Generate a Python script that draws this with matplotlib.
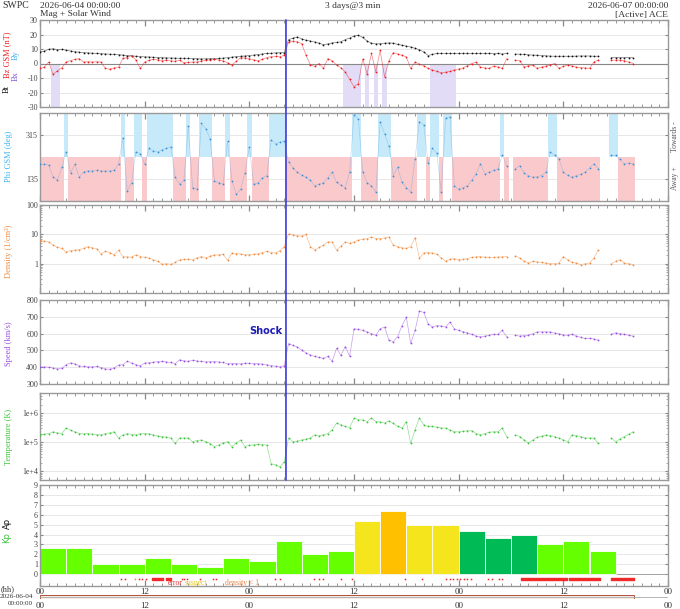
import numpy as np
import matplotlib.pyplot as plt
from matplotlib.patches import ConnectionPatch

nan = np.nan

# half-hour samples from 2026-06-04 00:00 UT (144 per series, 6 h per row)
bt = [8.0, 8.5, 9.8, 10.2, 9.5, 9.8, 9.2, 8.6, 8.2, 7.8, 7.5, 7.3,
      7.1, 7.0, 6.8, 6.6, 6.4, 6.3, 6.1, 5.8, 5.5, 5.3, 5.0, 4.8,
      4.6, 4.5, 4.3, 4.1, 4.0, 3.9, 3.8, 3.7, 3.6, 3.6, 3.5, 3.4,
      3.3, 3.2, 3.2, 3.3, 3.4, 3.5, 3.7, 4.0, 4.4, 4.7, 5.0, 5.2,
      5.5, 5.8, 6.2, 6.6, 6.9, 7.1, 7.3, 7.5, 7.5, 16.5, 17.5, 18.3,
      17.0, 16.0, 15.5, 14.8, 14.0, 13.0, 13.5, 14.2, 14.5, 15.0, 16.5, 17.5,
      19.0, 19.4, 18.0, 15.5, 14.0, 13.5, 13.7, 14.0, 14.2, 14.0, 13.2, 12.6,
      12.0, 11.4, 10.5, 9.5, 8.0, 5.5, 6.3, 6.9, 7.0, 6.9, 6.9, 6.9,
      7.0, 6.9, 6.9, 6.9, 6.9, 7.0, 6.9, 6.9, 6.8, 6.9, 6.5, 7.0,
      nan, 6.5, 6.4, 6.3, 6.0, 5.8, 5.7, 5.5, 5.3, 5.1, 5.0, 5.0,
      5.0, 5.0, 5.0, 5.1, 5.2, 5.2, 5.2, 5.0, 5.0, nan, nan, 4.1,
      4.1, 4.0, 4.1, 4.1, 4.0, nan, nan, nan, nan, nan, nan, nan]

bz = [-3.4, -2.5, 1.0, -7.5, -5.0, -3.0, 1.0, 2.0, 2.8, 3.4, 1.0, 1.2,
      1.0, 1.2, 1.0, -3.4, -3.9, -3.0, -2.5, 3.5, 4.1, 5.5, 2.3, -3.4,
      1.0, 2.3, 2.8, 2.5, 2.0, 2.3, 1.8, 1.6, 2.3, 0.5, 0.8, 1.0,
      1.0, 1.8, 2.3, 2.5, 2.8, 2.5, 1.8, 0.5, -1.1, 1.5, 4.1, 3.8,
      3.4, 2.5, 1.8, 3.0, 4.1, 4.8, 5.0, 4.6, 5.7, 14.8, 15.5, 15.0,
      13.7, 5.7, -1.0, -2.0, 0.0, -3.4, 3.4, 1.8, -1.0, -3.0, -5.7, -11.0,
      -16.0, -13.8, 3.0, -7.0, 6.9, -5.7, 9.1, -9.2, 2.0, 7.5, 6.5, 5.7,
      4.5, -3.4, 1.0, -0.5, -1.5, -3.4, -4.5, -5.5, -6.4, -6.0, -5.5, -4.6,
      -3.8, -3.0, -1.5, 0.0, 1.0, -2.5, -3.0, -3.4, -1.8, -2.5, -3.4, 3.4,
      nan, 2.3, 2.0, -2.5, -1.5, -1.1, -3.4, -2.5, -1.8, -1.0, 0.0, -3.4,
      -2.0, -1.1, -1.8, -2.5, -2.8, -3.0, -3.4, 1.0, 2.3, nan, nan, 2.3,
      2.3, 2.3, 2.0, 1.0, 0.0, nan, nan, nan, nan, nan, nan, nan]

# phi on the 45..405 display scale
phi = [195, 196, 192, 145, 130, 183, 246, 160, 195, 142, 165, 168,
       168, 170, 168, 167, 168, 170, 197, 301, 87, 120, 246, 239,
       197, 260, 250, 246, 255, 260, 267, 142, 114, 130, 350, 100,
       93, 363, 340, 300, 128, 120, 114, 290, 128, 73, 93, 160,
       267, 114, 120, 140, 149, 294, 280, 285, 290, 204, 180, 163,
       150, 142, 130, 107, 114, 120, 140, 163, 121, 110, 100, 163,
       398, 380, 163, 120, 107, 80, 370, 320, 270, 149, 183, 121,
       100, 80, 218, 370, 356, 200, 260, 240, 80, 384, 390, 107,
       93, 100, 107, 130, 156, 197, 156, 163, 170, 177, 232, 190,
       nan, 177, 190, 160, 149, 142, 145, 149, 163, 246, 232, 218,
       163, 150, 142, 149, 155, 163, 180, 197, 177, nan, nan, 232,
       232, 215, 197, 200, 197, nan, nan, nan, nan, nan, nan, nan]

density = [6.3, 5.8, 5.5, 4.3, 3.6, 3.3, 2.5, 2.8, 2.9, 3.0, 3.3, 3.8,
           3.5, 3.2, 2.2, 2.6, 2.4, 2.0, 2.9, 1.75, 1.7, 1.67, 2.0, 1.75,
           1.65, 1.55, 1.35, 1.2, 0.95, 1.0, 0.95, 1.1, 1.36, 1.4, 1.43, 1.36,
           1.6, 1.75, 1.55, 1.8, 2.0, 2.0, 2.1, 1.3, 2.3, 2.2, 2.15, 2.0,
           2.0, 2.1, 2.15, 2.4, 2.6, 2.4, 2.3, 2.8, 3.8, 10.5, 9.5, 9.0,
           8.6, 10.0, 3.8, 2.9, 3.6, 4.3, 5.5, 5.5, 2.9, 4.0, 5.5, 4.9,
           5.5, 6.3, 6.8, 7.2, 8.1, 7.2, 7.2, 7.5, 8.1, 4.3, 3.8, 3.5,
           3.3, 3.8, 7.7, 1.55, 2.3, 2.4, 2.3, 2.1, 1.6, 1.2, 1.4, 1.5,
           1.36, 1.4, 1.5, 1.63, 1.7, 1.75, 1.67, 1.65, 1.63, 1.67, 1.7, 1.75,
           nan, 1.85, 1.55, 1.2, 1.05, 1.2, 1.15, 1.1, 1.05, 1.0, 1.0, 1.05,
           1.75, 1.36, 1.1, 1.05, 0.93, 1.0, 1.05, 1.55, 2.9, nan, nan, 1.0,
           1.2, 1.36, 1.05, 1.0, 0.93, nan, nan, nan, nan, nan, nan, nan]

speed = [400, 402, 400, 395, 390, 393, 415, 425, 420, 408, 405, 402,
         402, 405, 398, 390, 387, 396, 412, 415, 435, 425, 415, 408,
         425, 427, 430, 433, 435, 431, 428, 421, 444, 438, 435, 441,
         437, 435, 431, 433, 433, 431, 428, 421, 421, 421, 420, 424,
         423, 422, 421, 418, 415, 410, 406, 402, 410, 541, 530, 520,
         502, 485, 473, 464, 458, 452, 464, 435, 512, 470, 523, 465,
         629, 625, 619, 610, 600, 590, 629, 639, 561, 552, 581, 648,
         697, 542, 619, 735, 726, 658, 639, 648, 645, 639, 668, 629,
         619, 612, 605, 596, 585, 581, 585, 590, 596, 596, 619, 581,
         nan, 590, 585, 588, 590, 600, 610, 610, 610, 610, 603, 600,
         592, 590, 596, 585, 578, 571, 571, 568, 561, nan, nan, 596,
         605, 600, 596, 590, 585, nan, nan, nan, nan, nan, nan, nan]

# temperature in thousands of kelvin
temp_k = [180, 190, 200, 230, 210, 200, 310, 260, 230, 200, 195, 200,
          190, 185, 180, 200, 210, 230, 140, 180, 200, 185, 180, 200,
          200, 195, 180, 165, 157, 150, 140, 92, 140, 140, 140, 105,
          115, 120, 105, 90, 71, 81, 95, 105, 71, 95, 120, 71,
          80, 81, 85, 83, 81, 18, 17, 14, 21, 140, 105, 110,
          120, 130, 140, 180, 170, 180, 200, 270, 460, 400, 350, 320,
          680, 600, 590, 520, 680, 520, 500, 460, 550, 450, 350, 310,
          520, 92, 270, 680, 400, 350, 350, 330, 310, 310, 260, 230,
          230, 240, 250, 250, 200, 180, 200, 220, 230, 230, 310, 157,
          nan, 180, 157, 120, 95, 120, 150, 160, 180, 170, 157, 140,
          120, 105, 180, 170, 157, 140, 140, 140, 92, nan, nan, 140,
          105, 130, 157, 190, 230, nan, nan, nan, nan, nan, nan, nan]

shock_hour = 28.2

kp_start = [0, 3, 6, 9, 12, 15, 18, 21, 24, 27, 30, 33,
            36, 39, 42, 45, 48, 51, 54, 57, 60, 63]
kp = [2.67, 2.67, 1.0, 1.0, 1.67, 1.0, 0.67, 1.67, 1.33, 3.33, 2.0, 2.33,
      5.33, 6.33, 5.0, 5.0, 4.33, 3.67, 4.0, 3.0, 3.33, 2.33]

# data quality flags (hours)
error_marks = [9.3, 9.8, 11.4, 11.7, 12.1, 16.3, 16.5, 16.9, 18.3, 19.8, 20.2,
               26.9, 27.5, 31.4, 32.0, 32.5, 34.5, 35.8, 41.9, 43.8, 46.5, 47.0,
               47.4, 47.8, 48.2, 48.6, 49.0, 49.4, 51.4, 51.8, 52.6, 53.0]
error_spans = [(12.8, 14.1), (14.5, 15.0), (55.2, 60.4), (60.7, 64.2), (65.5, 68.1)]
suspect_marks = [10.9]

hours = np.arange(len(bt)) * 0.5
bt, bz, phi = np.array(bt), np.array(bz), np.array(phi, dtype=float)
density, speed = np.array(density), np.array(speed, dtype=float)
temp = np.array(temp_k, dtype=float) * 1e3

W, H = 680, 609
plt.rcParams['font.family'] = ['Liberation Serif', 'DejaVu Sans']
fig = plt.figure(figsize=(W / 100, H / 100), dpi=100)


def px_axes(top, bottom, left=40, right=668):
    return fig.add_axes([left / W, 1 - bottom / H, (right - left) / W, (bottom - top) / H])


def ftext(x, y, s, **kw):
    kw.setdefault('fontsize', 6)
    kw.setdefault('va', 'center')
    fig.text(x / W, 1 - y / H, s, **kw)


def dress(ax, yticks, ylabels, show_x=False):
    ax.set_xlim(0, 72)
    ax.set_xticks(range(0, 73, 12))
    ax.set_xticks(range(0, 73), minor=True)
    ax.set_xticklabels(['00', '12'] * 3 + ['00'])
    ax.tick_params(axis='x', which='both', direction='in', top=True, bottom=True,
                   color='#888', labelbottom=show_x, labelsize=6.5, labelcolor='#333', pad=1.5)
    ax.tick_params(axis='x', which='major', length=4, width=0.9)
    ax.tick_params(axis='x', which='minor', length=2.2, width=0.6)
    ax.set_yticks(yticks)
    ax.set_yticklabels(ylabels)
    ax.yaxis.set_minor_formatter(plt.NullFormatter())
    ax.tick_params(axis='y', which='both', direction='in', left=True, right=True,
                   color='#888', labelsize=5.8, labelcolor='#444', pad=1.5)
    ax.tick_params(axis='y', which='major', length=2.5)
    ax.tick_params(axis='y', which='minor', length=1.5, width=0.5)
    ax.grid(axis='y', which='major', color='#e3e3e3', lw=0.6)
    ax.set_axisbelow(True)
    for sp in ax.spines.values():
        sp.set_color('#999')
        sp.set_linewidth(1.0)


def trace(ax, y, color, ms=1.3, line_alpha=0.55):
    ax.plot(hours, y, color=color, lw=0.5, alpha=line_alpha, zorder=3)
    ax.plot(hours, y, ls='none', marker='o', ms=ms, mec='none', color=color, zorder=4)


# Bt / Bz
ax1 = px_axes(20, 107)
neg = bz < -4
ax1.bar(hours[neg], -30, bottom=0, width=0.5, color='#e2dcf7', lw=0, zorder=1)
ax1.axhline(0, color='#888', lw=0.8, zorder=2)
trace(ax1, bt, '#111111')
trace(ax1, bz, '#ee1c1c')
ax1.set_ylim(-30, 30)
dress(ax1, range(-30, 31, 10), [str(v) for v in range(-30, 31, 10)])

# Phi
ax2 = px_axes(113, 201)
away = (phi >= 45) & (phi < 225)
towards = phi >= 225
ax2.bar(hours[away], 225 - 45, bottom=45, width=0.5, color='#f9c9cc', lw=0, zorder=1)
ax2.bar(hours[towards], 405 - 225, bottom=225, width=0.5, color='#c7eafa', lw=0, zorder=1)
trace(ax2, phi, '#3a8fd6', ms=1.3, line_alpha=0.3)
ax2.set_ylim(45, 405)
dress(ax2, [135, 315], ['135', '315'])

# density
ax3 = px_axes(205, 293)
trace(ax3, density, '#f08a3c')
ax3.set_yscale('log')
ax3.set_ylim(0.1, 100)
dress(ax3, [1, 10, 100], ['1', '10', '100'])

# speed
ax4 = px_axes(300, 384)
trace(ax4, speed, '#9a4fe0')
ax4.set_ylim(300, 800)
dress(ax4, range(300, 801, 100), [str(v) for v in range(300, 801, 100)])
ax4.text(27.8, 615, 'Shock', ha='right', va='center', color='#1c1cb4',
         fontweight='bold', family='DejaVu Sans', fontsize=7)

# temperature
ax5 = px_axes(393, 480)
trace(ax5, temp, '#3cc43c')
ax5.set_yscale('log')
ax5.set_ylim(5e3, 5e6)
dress(ax5, [1e4, 1e5, 1e6], ['1e+4', '1e+5', '1e+6'])

shock = ConnectionPatch(xyA=(shock_hour, 30), coordsA=ax1.transData,
                        xyB=(shock_hour, 5e3), coordsB=ax5.transData,
                        color='#3b3bdc', lw=1.2, zorder=10)
fig.add_artist(shock)


# Kp
def kp_colour(v):
    if v < 3.5:
        return '#66ff00'
    if v < 4.5:
        return '#00bb55'
    if v < 5.67:
        return '#f5e51c'
    if v < 6.67:
        return '#ffc000'
    return '#ff3030'


ax6 = px_axes(485, 586)
ax6.bar(kp_start, kp, width=3, align='edge', color=[kp_colour(v) for v in kp],
        edgecolor='white', lw=0.6, zorder=2)
ax6.axhline(0, color='#999', lw=0.6, zorder=1)
ax6.plot(error_marks, [-0.45] * len(error_marks), ls='none', marker='s', ms=1.1,
         mec='none', color='#e82020')
ax6.plot(suspect_marks, [-0.45] * len(suspect_marks), ls='none', marker='s', ms=1.1,
         mec='none', color='#f0843c')
ax6.broken_barh([(a, b - a) for a, b in error_spans], (-0.55, 0.2), color='#f02a2a')
ax6.text(15.5, -0.85, 'error', color='#e03c3c', fontsize=5.5, ha='center', va='center')
ax6.text(17.9, -0.85, 'suspect', color='#e6c619', fontsize=5.5, ha='center', va='center')
ax6.text(23.2, -0.85, 'density < 1', color='#f0843c', fontsize=5.5, ha='center', va='center')
ax6.set_ylim(-1.2, 9)
dress(ax6, range(0, 10), [str(v) for v in range(10)], show_x=True)

# time bar
ax7 = px_axes(595, 599)
data_end = hours[~np.isnan(bt)][-1] + 0.1
ax7.axhline(0.5, color='#aaa', lw=0.6)
ax7.barh(0.5, data_end, height=1, left=0, color='#f6ebe7', edgecolor='#b0503a', lw=0.7)
ax7.set_xlim(0, 72)
ax7.set_ylim(0, 1)
ax7.set_xticks(range(0, 73, 12))
ax7.set_xticklabels(['00', '12'] * 3 + ['00'])
ax7.set_yticks([])
ax7.tick_params(axis='x', length=0, labelsize=6.5, labelcolor='#333', pad=2)
for sp in ax7.spines.values():
    sp.set_visible(False)

# header and side labels
ftext(2, 6, 'SWPC', fontsize=7, color='#333')
ftext(40, 6, '2026-06-04 00:00:00', fontsize=6.8, color='#333')
ftext(40, 14.5, 'Mag + Solar Wind', fontsize=6.8, color='#333')
ftext(353, 6, '3 days@3 min', fontsize=6.8, color='#333', ha='center')
ftext(668, 6, '2026-06-07 00:00:00', fontsize=6.8, color='#333', ha='right')
ftext(668, 14.5, '[Active] ACE', fontsize=6.8, color='#333', ha='right')

ftext(7, 55, 'Bz GSM (nT)', rotation=90, ha='center', color='#ee1c1c')
ftext(7, 89, 'Bt', rotation=90, ha='center', color='#111')
ftext(16, 55, 'By', rotation=90, ha='center', color='#3cb4f0')
ftext(16, 76, 'Bx', rotation=90, ha='center', color='#8a5ad8')
ftext(9, 156, 'Phi GSM (deg)', rotation=90, ha='center', color='#3cb4f0')
ftext(9, 251, 'Density (1/cm³)', rotation=90, ha='center', color='#f08a3c')
ftext(9, 344, 'Speed (km/s)', rotation=90, ha='center', color='#9a4fe0')
ftext(9, 437, 'Temperature (K)', rotation=90, ha='center', color='#3cc43c')
ftext(7, 523, 'Ap', rotation=90, ha='center', color='#111', family='DejaVu Sans')
ftext(7, 538, 'Kp', rotation=90, ha='center', color='#3cc43c', family='DejaVu Sans')
ftext(675, 137, 'Towards -', rotation=90, ha='center', fontsize=5.5, color='#555')
ftext(675, 178, 'Away +', rotation=90, ha='center', fontsize=5.5, color='#555')

ftext(1, 589, '(hh)', fontsize=6, color='#333')
ftext(33, 596, '2026-06-04', fontsize=5.2, color='#333', ha='right')
ftext(33, 603.5, '00:00:00', fontsize=5.2, color='#333', ha='right')

fig.savefig('out.png', dpi=100)
